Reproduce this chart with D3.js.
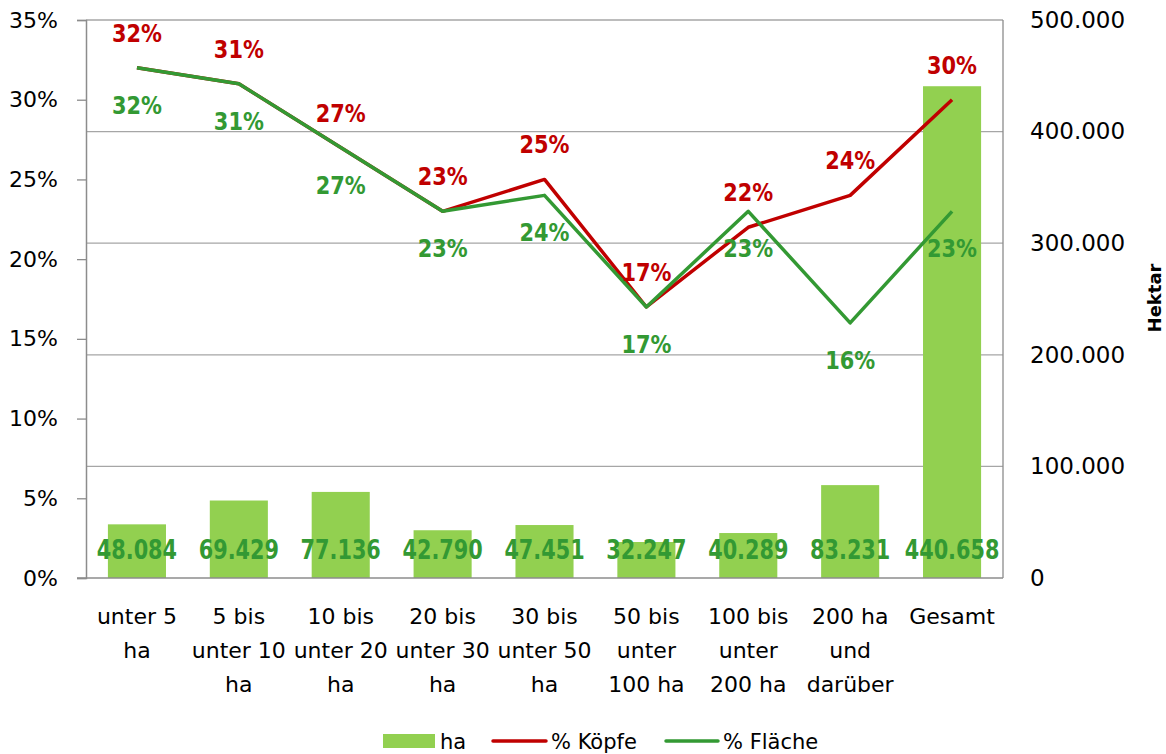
<!DOCTYPE html>
<html>
<head>
<meta charset="utf-8">
<script src="https://cdn.jsdelivr.net/npm/d3@7"></script>
<style>
  body { margin: 0; background: #fff; }
  svg { font-family: "DejaVu Sans", sans-serif; }
</style>
</head>
<body>
<svg id="chart" width="1166" height="754"></svg>
<script>
// data
var categories = ["unter 5\nha", "5 bis\nunter 10\nha", "10 bis\nunter 20\nha", "20 bis\nunter 30\nha",
                  "30 bis\nunter 50\nha", "50 bis\nunter\n100 ha", "100 bis\nunter\n200 ha", "200 ha\nund\ndarüber", "Gesamt"];
var hektar = [48084, 69429, 77136, 42790, 47451, 32247, 40289, 83231, 440658];
var koepfe = [32, 31, 27, 23, 25, 17, 22, 24, 30];
var flaeche = [32, 31, 27, 23, 24, 17, 23, 16, 23];
var leftTicks = [0, 5, 10, 15, 20, 25, 30, 35];
var rightTicks = [0, 100000, 200000, 300000, 400000, 500000];

var svg = d3.select("#chart");
var pLeft = 86, pRight = 1003, pTop = 20, pBottom = 578;

var x = d3.scaleBand().domain(d3.range(categories.length)).range([pLeft, pRight]).paddingInner(0.43).paddingOuter(0.215);
var yL = d3.scaleLinear().domain([0, 35]).range([pBottom, pTop]);
var yR = d3.scaleLinear().domain([0, 500000]).range([pBottom, pTop]);
var cx = function (i) { return x(i) + x.bandwidth() / 2; };

var fmt = function (v) { return d3.format(",")(v).replace(/,/g, "."); };

// gridlines (on right axis ticks)
svg.append("g").selectAll("line")
  .data(rightTicks.slice(1, -1))
  .enter().append("line")
  .attr("x1", pLeft).attr("x2", pRight)
  .attr("y1", function (d) { return yR(d); })
  .attr("y2", function (d) { return yR(d); })
  .attr("stroke", "#a6a6a6").attr("stroke-width", 1.3);

// plot frame
svg.append("line").attr("x1", pLeft).attr("x2", pRight).attr("y1", pTop).attr("y2", pTop)
  .attr("stroke", "#a6a6a6").attr("stroke-width", 1.3);
svg.append("line").attr("x1", pRight).attr("x2", pRight).attr("y1", pTop).attr("y2", pBottom)
  .attr("stroke", "#8c8c8c").attr("stroke-width", 1.3);

// bars
svg.append("g").selectAll("rect")
  .data(hektar)
  .enter().append("rect")
  .attr("x", function (d, i) { return x(i); })
  .attr("width", x.bandwidth())
  .attr("y", function (d) { return yR(d); })
  .attr("height", function (d) { return pBottom - yR(d); })
  .attr("fill", "#92d050");

// left axis
var axL = svg.append("g").attr("transform", "translate(" + pLeft + ",0)")
  .call(d3.axisLeft(yL).tickValues(leftTicks).tickSize(9).tickPadding(19).tickFormat(function (d) { return d + "%"; }));
axL.select(".domain").attr("stroke", "#8c8c8c").attr("stroke-width", 1.5);
axL.selectAll(".tick line").attr("stroke", "#8c8c8c").attr("stroke-width", 1.3);
axL.selectAll("text").attr("font-size", 22).attr("fill", "#000").attr("font-family", "DejaVu Sans, sans-serif");

// right axis
var axR = svg.append("g").attr("transform", "translate(" + pRight + ",0)")
  .call(d3.axisRight(yR).tickValues(rightTicks).tickSize(0).tickPadding(27).tickFormat(fmt));
axR.select(".domain").remove();
axR.selectAll("text").attr("font-size", 23).attr("fill", "#000").attr("font-family", "DejaVu Sans, sans-serif");

// bottom axis line
svg.append("line").attr("x1", pLeft - 9).attr("x2", pRight).attr("y1", pBottom).attr("y2", pBottom)
  .attr("stroke", "#8c8c8c").attr("stroke-width", 1.6);

// category labels
var cat = svg.append("g").selectAll("text")
  .data(categories)
  .enter().append("text")
  .attr("text-anchor", "middle")
  .attr("font-size", 22)
  .attr("fill", "#000")
  .attr("x", function (d, i) { return cx(i); })
  .attr("y", 624);
cat.each(function (d, i) {
  var t = d3.select(this);
  d.split("\n").forEach(function (line, k) {
    t.append("tspan").attr("x", cx(i)).attr("dy", k === 0 ? 0 : 34).text(line);
  });
});

// right axis title
svg.append("text")
  .attr("transform", "translate(1161,298) rotate(-90)")
  .attr("text-anchor", "middle")
  .attr("font-size", 18).attr("font-weight", "bold")
  .text("Hektar");

// lines
var line = d3.line().x(function (d, i) { return cx(i); }).y(function (d) { return yL(d); });
svg.append("path").datum(koepfe).attr("d", line)
  .attr("fill", "none").attr("stroke", "#c00000").attr("stroke-width", 3.5).attr("stroke-linejoin", "round");
svg.append("path").datum(flaeche).attr("d", line)
  .attr("fill", "none").attr("stroke", "#339933").attr("stroke-width", 3.5).attr("stroke-linejoin", "round");

// value labels: bold, a bit condensed like the original
function valueLabels(data, color, size, sx, yPos, txt) {
  svg.append("g").selectAll("text")
    .data(data)
    .enter().append("text")
    .attr("text-anchor", "middle")
    .attr("font-size", size).attr("font-weight", "bold")
    .attr("fill", color)
    .attr("transform", function (d, i) { return "translate(" + cx(i) + "," + yPos(d) + ") scale(" + sx + ",1)"; })
    .text(txt);
}
valueLabels(hektar, "#339933", 26, 0.8, function () { return 559; }, fmt);
valueLabels(koepfe, "#c00000", 24, 0.87, function (d) { return yL(d) - 26; }, function (d) { return d + "%"; });
valueLabels(flaeche, "#339933", 24, 0.87, function (d) { return yL(d) + 46; }, function (d) { return d + "%"; });

// legend
var lg = svg.append("g").attr("font-size", 21);
lg.append("rect").attr("x", 383).attr("y", 734).attr("width", 52).attr("height", 14).attr("fill", "#92d050");
lg.append("text").attr("x", 440).attr("y", 749).text("ha");
lg.append("line").attr("x1", 493).attr("x2", 546).attr("y1", 741).attr("y2", 741)
  .attr("stroke", "#c00000").attr("stroke-width", 3.5).attr("stroke-linecap", "round");
lg.append("text").attr("x", 551).attr("y", 749).text("% Köpfe");
lg.append("line").attr("x1", 666).attr("x2", 718).attr("y1", 741).attr("y2", 741)
  .attr("stroke", "#339933").attr("stroke-width", 3.5).attr("stroke-linecap", "round");
lg.append("text").attr("x", 723).attr("y", 749).text("% Fläche");
</script>
</body>
</html>
